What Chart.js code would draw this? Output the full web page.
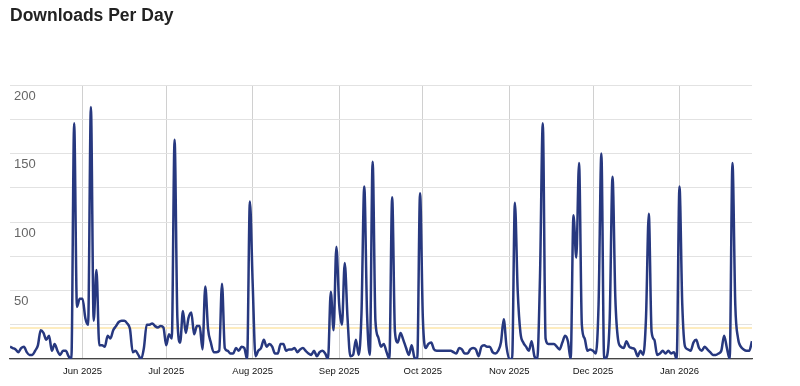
<!DOCTYPE html>
<html>
<head>
<meta charset="utf-8">
<script src="https://cdn.jsdelivr.net/npm/chart.js@4"></script>
<style>
  body { margin: 0; background: #fff; }
  #wrap { position: relative; width: 800px; height: 386px; }
  #title {
    position: absolute; left: 10px; top: 5px;
    font: bold 17.5px "Liberation Sans", Arial, sans-serif;
    color: #222;
  }
</style>
</head>
<body>
<div id="wrap">
  <div id="title">Downloads Per Day</div>
  <canvas id="myChart"></canvas>
</div>

<script>
  // one value per day, starting 6 May 2025 (index 0) to 27 Jan 2026
  const downloads = [
    9, 8, 7, 5, 8, 9, 5, 3, 3, 6, 10, 21, 19, 14, 17, 6, 11, 6, 3, 6,
    6, 2, 0, 172, 38, 44, 44, 30, 25, 184, 28, 65, 10, 10, 9, 17, 15, 21, 24, 27,
    28, 28, 26, 22, 5, 6, 3, 0, 8, 25, 25, 26, 24, 23, 24, 23, 10, 18, 15, 160,
    30, 12, 35, 19, 30, 34, 18, 24, 24, 7, 53, 22, 12, 5, 5, 6, 55, 8, 6, 4,
    4, 8, 6, 9, 8, 0, 115, 55, 2, 6, 8, 14, 9, 11, 9, 4, 4, 11, 11, 6,
    7, 7, 8, 5, 7, 8, 6, 4, 3, 6, 2, 5, 6, 4, 0, 49, 21, 82, 40, 25,
    70, 30, 2, 3, 14, 3, 33, 126, 33, 3, 144, 28, 16, 9, 11, 5, 0, 118, 20, 12,
    19, 14, 8, 3, 10, 1, 0, 121, 30, 8, 11, 12, 7, 6, 6, 6, 6, 6, 6, 5,
    4, 8, 7, 4, 4, 7, 8, 7, 2, 9, 10, 9, 9, 5, 4, 6, 12, 29, 9, 0,
    0, 114, 50, 19, 12, 9, 6, 13, 2, 0, 60, 172, 15, 11, 11, 11, 9, 7, 12, 17,
    13, 0, 105, 74, 143, 25, 15, 6, 7, 6, 4, 40, 150, 0, 2, 30, 133, 45, 14, 9,
    8, 13, 9, 8, 7, 2, 6, 3, 30, 106, 20, 14, 3, 4, 6, 4, 6, 4, 5, 0,
    126, 40, 9, 7, 6, 12, 14, 8, 6, 9, 7, 5, 3, 3, 4, 6, 17, 8, 0, 143,
    40, 15, 9, 7, 6, 6, 13
  ];

  // yellow reference line
  const averageDownloads = 22.6;

  // day index of each month start, and its label
  const monthTicks = [26, 56, 87, 118, 148, 179, 209, 240];
  const monthLabels = ['Jun 2025', 'Jul 2025', 'Aug 2025', 'Sep 2025', 'Oct 2025', 'Nov 2025', 'Dec 2025', 'Jan 2026'];

  const lastDay = downloads.length - 1;

  const data = {
    datasets: [{
      label: 'Downloads',
      data: downloads.map((v, i) => ({ x: i, y: v })),
      borderColor: '#27387f',
      borderWidth: 2.5,
      pointRadius: 0,
      cubicInterpolationMode: 'monotone',
      order: 1
    }, {
      label: 'Average',
      data: [{ x: 0, y: averageDownloads }, { x: lastDay, y: averageDownloads }],
      borderColor: 'rgba(252, 226, 160, 0.9)',
      borderWidth: 1.5,
      pointRadius: 0,
      order: 2
    }]
  };

  const config = {
    type: 'line',
    data: data,
    options: {
      responsive: true,
      maintainAspectRatio: false,
      animation: false,
      layout: {
        padding: { left: 10, right: 48, top: 85, bottom: 0 }
      },
      plugins: {
        legend: { display: false },
        tooltip: { enabled: false }
      },
      scales: {
        x: {
          type: 'linear',
          min: 0,
          max: lastDay,
          afterBuildTicks: (scale) => {
            scale.ticks = monthTicks.map(v => ({ value: v }));
          },
          afterFit: (scale) => { scale.height = 27; },
          ticks: {
            autoSkip: false,
            maxRotation: 0,
            padding: 7,
            color: '#111',
            font: { family: 'Liberation Sans', size: 9.5 },
            callback: (value) => monthLabels[monthTicks.indexOf(value)]
          },
          grid: {
            color: '#d0d0d0',
            drawTicks: false
          },
          border: {
            color: '#444',
            width: 1.2
          }
        },
        y: {
          min: 0,
          max: 200,
          afterFit: (scale) => { scale.width = 0; },
          ticks: {
            stepSize: 25,
            mirror: true,
            padding: 4,
            labelOffset: 11,
            color: '#666',
            font: { family: 'Liberation Sans', size: 13 },
            callback: (value) => (value > 0 && value % 50 === 0) ? value : ''
          },
          grid: {
            color: '#e2e2e2',
            drawTicks: false
          },
          border: { display: false }
        }
      }
    }
  };

  var myChart = new Chart(
    document.getElementById('myChart'),
    config
  );
</script>
</body>
</html>
